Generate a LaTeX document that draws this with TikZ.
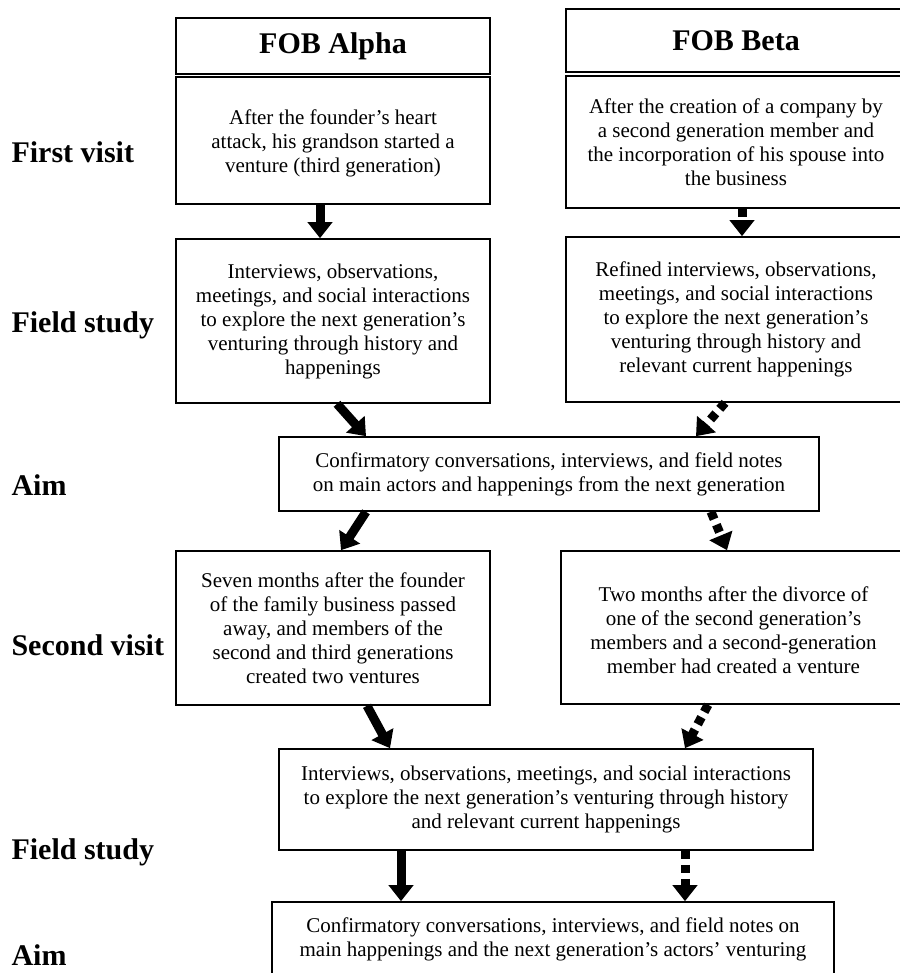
\documentclass[tikz,border=0pt]{standalone}
\usepackage{fontspec}
\setmainfont{Liberation Serif}
\usetikzlibrary{arrows.meta,positioning,calc}

\tikzset{
  box/.style={draw, line width=1.6pt, align=center, inner sep=0pt,
    font=\fontsize{21}{24}\selectfont},
  headbox/.style={box, font=\fontsize{30}{34}\selectfont\bfseries},
  stagelabel/.style={anchor=west, font=\fontsize{30}{34}\selectfont\bfseries},
  flow/.style={line width=9pt, -{Triangle[width=24pt,length=16pt]}},
  dotflow/.style={flow, dash pattern=on 8pt off 6pt},
}

\begin{document}
\begin{tikzpicture}[x=1pt, y=-1pt]
    \useasboundingbox (0,0) rectangle (899,973);

    % Stages
    \node[stagelabel] (s1) at (8,152) {First visit};
    \node[stagelabel] (s2) at (8,325) {Field study};
    \node[stagelabel] (s3) at (8,485) {Aim};
    \node[stagelabel] (s4) at (8,645) {Second visit};
    \node[stagelabel] (s5) at (8,852) {Field study};
    \node[stagelabel] (s6) at (8,955) {Aim};

    % FOB Alpha
    \node[headbox, minimum width=314pt, minimum height=56pt] (hA) at (333,46) {FOB Alpha};
    \node[box, minimum width=314pt, minimum height=127pt] (a1) at (333,140.5)
        {\mbox{}\\[-4pt]After the founder’s heart\\attack, his grandson started a\\venture (third generation)};
    \node[box, minimum width=314pt, minimum height=164pt] (a2) at (333,321)
        {Interviews, observations,\\meetings, and social interactions\\to explore the next generation’s\\venturing through history and\\happenings};
    \node[box, minimum width=314pt, minimum height=154pt] (a3) at (333,628)
        {Seven months after the founder\\of the family business passed\\away, and members of the\\second and third generations\\created two ventures};

    % FOB Beta
    \node[headbox, minimum width=340pt, minimum height=63pt] (hB) at (736,40.5) {FOB Beta};
    \node[box, minimum width=340pt, minimum height=132pt] (b1) at (736,142)
        {After the creation of a company by\\a second generation member and\\the incorporation of his spouse into\\the business};
    \node[box, minimum width=340pt, minimum height=165pt] (b2) at (736,319.5)
        {Refined interviews, observations,\\meetings, and social interactions\\to explore the next generation’s\\venturing through history and\\relevant current happenings};
    \node[box, minimum width=345pt, minimum height=153pt] (b3) at (733.5,627.5)
        {\mbox{}\\[-4pt]Two months after the divorce of\\one of the second generation’s\\members and a second-generation\\member had created a venture};

    % Shared steps
    \node[box, minimum width=540pt, minimum height=74pt] (aim1) at (549,474)
        {Confirmatory conversations, interviews, and field notes\\on main actors and happenings from the next generation};
    \node[box, minimum width=534pt, minimum height=101pt] (fs2) at (546,799.5)
        {Interviews, observations, meetings, and social interactions\\to explore the next generation’s venturing through history\\and relevant current happenings};
    \node[box, minimum width=562pt, minimum height=74pt] (aim2) at (553,939)
        {Confirmatory conversations, interviews, and field notes on\\main happenings and the next generation’s actors’ venturing};

    % Arrows
    \draw[flow] ([xshift=-13pt]a1.south) -- ([xshift=-13pt]a2.north);
    \draw[dotflow] ([xshift=6pt]b1.south) -- ([xshift=6pt]b2.north);
    \draw[flow] ([xshift=4pt]a2.south) -- ([xshift=-183pt]aim1.north);
    \draw[dotflow] ([xshift=-11pt]b2.south) -- ([xshift=147pt]aim1.north);
    \draw[flow] ([xshift=-183pt]aim1.south) -- ([xshift=8pt]a3.north);
    \draw[dotflow] ([xshift=162pt]aim1.south) -- ([xshift=-6.5pt]b3.north);
    \draw[flow] ([xshift=34pt]a3.south) -- ([xshift=-156pt]fs2.north);
    \draw[dotflow] ([xshift=-25.5pt]b3.south) -- ([xshift=139pt]fs2.north);
    \draw[flow] ([xshift=-145pt]fs2.south) -- ([xshift=-152pt]aim2.north);
    \draw[dotflow] ([xshift=139pt]fs2.south) -- ([xshift=132pt]aim2.north);
\end{tikzpicture}
\end{document}
